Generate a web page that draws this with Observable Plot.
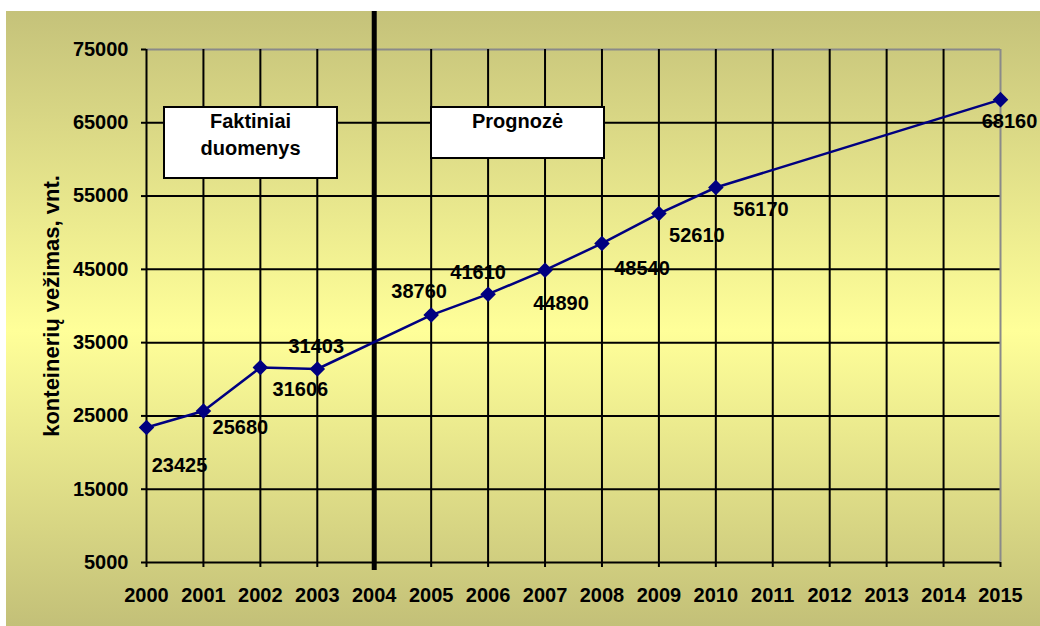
<!DOCTYPE html>
<html>
<head>
<meta charset="utf-8">
<script src="https://cdn.jsdelivr.net/npm/d3@7"></script>
<script src="https://cdn.jsdelivr.net/npm/@observablehq/plot@0.6"></script>
<style>
  html, body { margin: 0; padding: 0; background: #fff; }
  #bg {
    position: absolute; left: 6px; top: 11px; width: 1034px; height: 615px;
    background: linear-gradient(to bottom, #C5C27A 0%, #FFFF99 52%, #C3C078 100%);
    font-family: "Liberation Sans", Arial, sans-serif;
  }
  #bg svg { position: absolute; left: 0; top: 0; overflow: visible; }
  .box {
    position: absolute; background: #fff; border: 2px solid #000; box-sizing: border-box;
    font-weight: bold; font-size: 20px; text-align: center; line-height: 27px; color: #000;
  }
</style>
</head>
<body>
<div id="bg"></div>
<script>
// ---- data ----
const years  = [2000, 2001, 2002, 2003, 2005, 2006, 2007, 2008, 2009, 2010, 2015];
const values = [23425, 25680, 31606, 31403, 38760, 41610, 44890, 48540, 52610, 56170, 68160];
const xTicks = [2000, 2001, 2002, 2003, 2004, 2005, 2006, 2007, 2008, 2009, 2010, 2011, 2012, 2013, 2014, 2015];
const yTicks = [5000, 15000, 25000, 35000, 45000, 55000, 65000, 75000];
const dividerYear = [2004];
const yLabel = "konteinerių vežimas, vnt.";
const factLabel = ["Faktiniai", "duomenys"];
const forecastLabel = ["Prognozė"];

// ---- layout (label offsets from each point, in px) ----
const labelOffsets = {
  2000: [33, 38], 2001: [37, 17], 2002: [40, 22], 2003: [-1, -22],
  2005: [-12, -23], 2006: [-10, -22], 2007: [16, 33], 2008: [40, 25],
  2009: [38, 22], 2010: [45, 22], 2015: [9, 22]
};

const points = years.map((year, i) => ({year, value: values[i]}));
const navy = "#000080";
const font = {fontSize: 20, fontWeight: "bold", fill: "#000"};

const labelMarks = points.map(p => Plot.text([p], {
  x: "year", y: "value", text: d => String(d.value),
  dx: labelOffsets[p.year][0], dy: labelOffsets[p.year][1],
  textAnchor: "middle", ...font
}));

const chart = Plot.plot({
  width: 1034,
  height: 615,
  marginLeft: 140,
  marginRight: 40,
  marginTop: 38,
  marginBottom: 64,
  style: {background: "transparent", fontFamily: "'Liberation Sans', Arial, sans-serif", fontWeight: "bold", fontSize: "20px", overflow: "visible"},
  x: {type: "linear", domain: d3.extent(xTicks)},
  y: {domain: d3.extent(yTicks)},
  marks: [
    Plot.gridY(yTicks.slice(0, -1), {stroke: "#000", strokeOpacity: 1, strokeWidth: 2}),
    Plot.gridY(yTicks.slice(-1), {stroke: "#8a8a8a", strokeOpacity: 1, strokeWidth: 2}),
    Plot.gridX(xTicks.slice(0, -1), {stroke: "#000", strokeOpacity: 1, strokeWidth: 2}),
    Plot.gridX(xTicks.slice(-1), {stroke: "#8a8a8a", strokeOpacity: 1, strokeWidth: 2}),
    Plot.axisY(yTicks, {tickFormat: "d", tickSize: 5, tickPadding: 13, stroke: "#000", strokeWidth: 2, label: null, ...font}),
    Plot.axisX(xTicks, {tickFormat: "d", tickSize: 5, tickPadding: 20, stroke: "#000", strokeWidth: 2, label: null, ...font}),
    Plot.ruleX(dividerYear, {stroke: "#000", strokeWidth: 5, insetTop: -38, insetBottom: -8}),
    Plot.line(points, {x: "year", y: "value", stroke: navy, strokeWidth: 2.5}),
    Plot.dot(points, {x: "year", y: "value", symbol: "diamond2", r: 7, fill: navy, stroke: "none"}),
    ...labelMarks,
    Plot.text([yLabel], {text: d => d, frameAnchor: "left", textAnchor: "middle", lineAnchor: "middle", rotate: -90, dx: -95, fontSize: 22, fontWeight: "bold", fill: "#000"})
  ]
});

const bg = document.getElementById("bg");
bg.appendChild(chart);

function addBox(lines, left, top, w, h) {
  const div = document.createElement("div");
  div.className = "box";
  div.style.left = left + "px";
  div.style.top = top + "px";
  div.style.width = w + "px";
  div.style.height = h + "px";
  lines.forEach(t => {
    const line = document.createElement("div");
    line.textContent = t;
    div.appendChild(line);
  });
  bg.appendChild(div);
}
addBox(factLabel, 157, 95, 175, 73);
addBox(forecastLabel, 424, 95, 175, 53);
</script>
</body>
</html>
